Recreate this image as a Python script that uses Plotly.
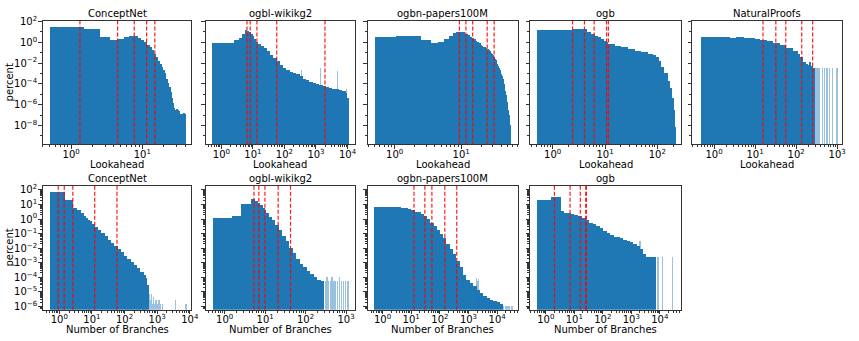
import math
import plotly.graph_objects as go

W, H = 859, 341
BLUE = '#1f77b4'
FONT = 'DejaVu Sans'

# ---------------- data (percent per bin, bin edges) ----------------
# Top row: Lookahead
cn_look_edges = [0.5, 1.5, 2.5, 3.5, 4.5, 5.5, 6.5, 7.5, 8.5, 9.5, 10.5, 11.5, 12.5, 13.5,
                 14.5, 15.5, 16.5, 17.5, 18.5, 19.5, 20.5, 21.5, 22.5, 23.5, 24.5, 25.5, 26.5,
                 27.5, 28.5, 29.5, 30.5, 31.5, 32.5, 33.5, 34.5, 35.5, 36.5, 37.5, 38.5, 39.5, 40.5]
cn_look_pct = [36, 23, 3.3, 1.9, 2.3, 3.6, 4.8, 4.5, 2.9, 1.86,
               1.3, 0.63, 0.38, 0.19, 0.089, 0.044, 0.017, 0.0083, 0.0049, 0.0024,
               0.0011, 3.2e-4, 1.3e-4, 5e-5, 2e-5, 5e-6, 1.6e-6, 5e-7, 3.2e-7, 4e-7,
               3.2e-7, 2.5e-7, 1.3e-7, 5e-8, 1e-7, 1.3e-7, 1.3e-7, 1.6e-7, 1.3e-7, 1.4e-7]
cn_look_lines = [1.33, 4.5, 7.7, 11.5, 15]

wk_look_edges = [0.5, 2.5, 3.5, 4.5, 5.5, 6.5, 7.5, 8.5, 9.5, 10.5,
                 12.5, 14.5, 17.5, 21.5, 26.5, 33.5, 42.5, 54.5, 69.5, 88.5,
                 112.5, 145, 181, 230, 293, 375, 475, 600, 760, 970,
                 1230, 1580, 2000, 2550, 3240, 4150, 5250, 6700, 8500, 9600, 10700]
wk_look_pct = [0.89, 1.86, 2.9, 6.8, 16, 14.5, 9.7, 6.8, 4.7, 2.3,
               1.2, 0.78, 0.45, 0.3, 0.15, 0.07, 0.035, 0.018, 0.007, 0.004,
               0.0025, 0.0016, 0.0012, 9e-4, 6e-4, 3.5e-4, 2.5e-4, 1.6e-4, 1.3e-4, 1e-4,
               8.5e-5, 6.6e-5, 5.5e-5, 4.6e-5, 3.8e-5, 3.2e-5, 2.6e-5, 2.2e-5, 1.5e-5, 5e-6]
wk_look_tail_x = [54, 330, 1320, 4800, 9000]
wk_look_tail_pct = [0.01, 0.0024, 0.0035, 0.0017, 3.2e-5]
wk_look_lines = [6.5, 8.2, 13.4, 57, 1930]

pp_look_edges = [0.5, 1.06, 2.5, 3.5, 4.5, 5.5, 6.5, 7.5, 8.5, 9.5, 10.5, 11.5, 12.5, 13.5,
                 14.5, 15.5, 16.5, 17.5, 18.5, 19.5, 20.5, 21.5, 22.5, 23.5, 24.5, 25.5, 26.5,
                 27.5, 28.5, 29.5, 30.5, 31.5, 32.5, 33.5, 34.5, 35.5, 36.5, 37.5, 38.5, 39.5,
                 40.5, 41.5, 42.5, 43.5, 44.5, 45.5, 46.5, 47.5, 48.5, 49.5, 50.5, 51.5, 52.5,
                 53.5, 54.5, 55.5]
pp_look_pct = [3.3, 4.7, 1.84, 0.89, 1.3, 2.3, 4.7, 8.5, 10.5, 11.2,
               9.7, 7.4, 5.5, 3.9, 2.9, 2.1, 1.6, 1.2, 0.9, 0.65,
               0.5, 0.42, 0.35, 0.3, 0.25, 0.2, 0.15, 0.11, 0.08, 0.06,
               0.042, 0.03, 0.02, 0.013, 0.009, 0.006, 0.004, 0.0025, 0.0016, 0.001,
               6e-4, 3.5e-4, 2e-4, 1e-4, 5e-5, 2.5e-5, 1e-5, 5e-6, 2e-6, 8e-7,
               3e-7, 1.2e-7, 4e-8, 1.2e-8, 4e-9]
pp_look_lines = [9.4, 11.8, 14.9, 24.6, 31.3]

ogb_look_edges = [0.5, 1.5, 2.5, 3.5, 4.5, 5.5, 6.5, 7.5, 8.5, 9.5, 10.5, 11.5,
                  15.5, 20.6, 27.4, 37, 49, 66, 82, 95, 106, 119, 137, 159, 178, 192, 204, 213, 219]
ogb_look_pct = [17.4, 17.4, 20, 20, 9.7, 6.8, 4.8, 3.4, 2.4, 1.6, 1.15,
                0.73, 0.51, 0.36, 0.25, 0.17, 0.12, 0.085, 0.059, 0.044, 0.017,
                0.005, 0.0012, 2.2e-4, 4e-5, 4.5e-6, 3e-7, 8e-9]
ogb_look_lines = [2.4, 4.05, 6.2, 10.7, 11.6]

np_look_edges = [0.5, 1.5, 2.5, 3.5, 4.5, 5.5, 6.5, 7.5,
                 10, 13.4, 19.5, 28, 41, 59, 86, 110, 125, 150, 181, 200, 218, 240, 262, 288]
np_look_pct = [3.3, 3.2, 3.1, 3.2, 3.3, 3.0, 3.0,
               2.7, 2.3, 1.86, 1.39, 0.96, 0.58, 0.30, 0.15, 0.089, 0.044, 0.015,
               0.0083, 0.0072, 0.013, 0.0063, 0.0035]
np_look_tail_x = [300, 320, 345, 380, 440, 500, 575, 660, 770, 1000]
np_look_tail_pct = [0.0035, 0.0035, 0.0035, 0.0035, 0.0035, 0.0035, 0.0035, 0.0035, 0.0035, 0.0035]
np_look_lines = [15.6, 32, 56, 137, 253]

# Bottom row: Number of Branches
cn_br_edges = [0.5, 1.5, 2.5, 3.5, 4.5, 5.5, 6.5, 7.5, 8.5, 9.5,
               12, 15, 19, 24, 30, 38, 48, 60, 76, 95, 120, 150, 190, 240, 300, 380, 430, 480, 540]
cn_br_pct = [70, 23, 5.9, 4.4, 2.7, 1.8, 1.29, 0.97, 0.75,
             0.51, 0.31, 0.19, 0.11, 0.069, 0.041, 0.025, 0.015, 0.0091, 0.0055,
             0.0033, 0.002, 0.0012, 7.2e-4, 4.4e-4, 2.6e-4, 1.6e-4, 1e-4, 3e-5]
cn_br_tail_x = [560, 600, 650, 700, 760, 820, 900, 1000, 1100, 1250, 1400, 3500, 7500]
cn_br_tail_pct = [8e-6, 3e-6, 8e-6, 1.5e-6, 5e-6, 1.5e-6, 3e-6, 1.5e-6, 3e-6, 1.5e-6, 1.5e-6, 3e-6, 1.5e-6]
cn_br_lines = [0.93, 1.42, 2.6, 12.2, 58.6]

wk_br_edges = [0.5, 1.5, 2.5, 3.5, 4.5, 5.5, 6.5, 7.5, 8.5, 9.5, 10.5,
               12.5, 14.5, 17.5, 21.5, 26, 32, 39, 47, 57, 70, 85, 104, 127, 155, 190, 232, 283]
wk_br_pct = [1.15, 1.8, 11, 11, 27, 18, 13, 10, 6.5, 4.5,
             2.8, 1.57, 0.87, 0.42, 0.19, 0.076, 0.031, 0.0117, 0.0046, 0.0019,
             9e-4, 5.1e-4, 3e-4, 1.7e-4, 1.1e-4, 7.4e-5, 5.5e-5]
wk_br_tail_x = [300, 330, 360, 400, 440, 490, 540, 600, 680, 760, 850, 950, 1100]
wk_br_tail_pct = [5.5e-5, 1.1e-4, 5.5e-5, 5.5e-5, 1.1e-4, 5.5e-5, 5.5e-5, 5.5e-5, 1.1e-4,
                  5.5e-5, 5.5e-5, 5.5e-5, 5.5e-5]
wk_br_lines = [5.3, 7.0, 9.9, 21, 42.4]

pp_br_edges = [0.5, 1.5, 2.5, 3.5, 4.5, 5.5,
               7.5, 10, 13, 17, 22, 28, 36, 46, 60, 78, 100, 130, 170, 220, 290,
               380, 500, 650, 850, 1100, 1450, 1900, 2500, 3300, 4300, 5600, 7300, 9500, 12500, 16000]
pp_br_pct = [7.6, 7.0, 6.9, 6.8, 6.5,
             5.8, 5.0, 4.2, 3.4, 3.0, 2.4, 1.8, 1.05, 0.6, 0.36,
             0.2, 0.1, 0.05, 0.021, 0.009, 0.0042, 0.0015, 5e-4, 1.6e-4, 7e-5,
             4.2e-5, 2.5e-5, 1.5e-5, 9e-6, 5.5e-6, 4e-6, 3e-6, 2.5e-6, 2e-6, 1.6e-6]
pp_br_tail_x = [1900, 2100, 2300, 17000, 19000, 21000, 24000, 27000, 33000]
pp_br_tail_pct = [1e-4, 6e-5, 8e-5, 1.2e-6, 1.2e-6, 1.2e-6, 1.2e-6, 1.2e-6, 1.2e-6]
pp_br_lines = [12.5, 30, 52.7, 149, 389]

ogb_br_edges = [0.5, 1.5, 2.5, 3.5, 4.5, 5.5, 6.5, 7.5,
                10, 14, 19, 25, 33, 45, 60, 80, 106, 140, 181, 240, 309, 400, 528,
                700, 900, 1200, 1540, 2000, 2620, 3400, 4500, 6000, 7600]
ogb_br_pct = [21, 32, 32, 3.5, 2.9, 2.7, 2.6,
              2.3, 2.0, 1.7, 1.3, 0.85, 0.6, 0.45, 0.33, 0.25, 0.16,
              0.11, 0.08, 0.065, 0.06, 0.05, 0.038, 0.032, 0.028, 0.022, 0.014,
              0.009, 0.0045, 0.0026, 0.0026, 0.0026]
ogb_br_tail_x = [2050, 8700, 12400, 29000]
ogb_br_tail_pct = [0.035, 0.0026, 0.0026, 0.0026]
ogb_br_lines = [2.0, 7.1, 16.2, 25.2, 26.6]

titles_top = ['ConceptNet', 'ogbl-wikikg2', 'ogbn-papers100M', 'ogb', 'NaturalProofs']
titles_bottom = ['ConceptNet', 'ogbl-wikikg2', 'ogbn-papers100M', 'ogb']

# ---------------- layout geometry (pixels) ----------------
cols_px = [(43, 193), (207.3, 358.3), (371, 522), (534.5, 686.5), (698, 849)]
rows_px = [(15, 141.7), (184, 311)]

panels = [
    dict(e=cn_look_edges, p=cn_look_pct, tx=None, tp=None, lines=cn_look_lines,
         xr=[-0.40, 1.69], dec=[0, 1], row=0, col=0, title=titles_top[0]),
    dict(e=wk_look_edges, p=wk_look_pct, tx=wk_look_tail_x, tp=wk_look_tail_pct, lines=wk_look_lines,
         xr=[-0.50, 4.25], dec=[0, 1, 2, 3, 4], row=0, col=1, title=titles_top[1]),
    dict(e=pp_look_edges, p=pp_look_pct, tx=None, tp=None, lines=pp_look_lines,
         xr=[-0.40, 1.85], dec=[0, 1], row=0, col=2, title=titles_top[2]),
    dict(e=ogb_look_edges, p=ogb_look_pct, tx=None, tp=None, lines=ogb_look_lines,
         xr=[-0.43, 2.45], dec=[0, 1, 2], row=0, col=3, title=titles_top[3]),
    dict(e=np_look_edges, p=np_look_pct, tx=np_look_tail_x, tp=np_look_tail_pct, lines=np_look_lines,
         xr=[-0.53, 3.12], dec=[0, 1, 2, 3], row=0, col=4, title=titles_top[4]),
    dict(e=cn_br_edges, p=cn_br_pct, tx=cn_br_tail_x, tp=cn_br_tail_pct, lines=cn_br_lines,
         xr=[-0.51, 4.05], dec=[0, 1, 2, 3, 4], row=1, col=0, title=titles_bottom[0]),
    dict(e=wk_br_edges, p=wk_br_pct, tx=wk_br_tail_x, tp=wk_br_tail_pct, lines=wk_br_lines,
         xr=[-0.47, 3.23], dec=[0, 1, 2, 3], row=1, col=1, title=titles_bottom[1]),
    dict(e=pp_br_edges, p=pp_br_pct, tx=pp_br_tail_x, tp=pp_br_tail_pct, lines=pp_br_lines,
         xr=[-0.51, 4.72], dec=[0, 1, 2, 3, 4], row=1, col=2, title=titles_bottom[2]),
    dict(e=ogb_br_edges, p=ogb_br_pct, tx=ogb_br_tail_x, tp=ogb_br_tail_pct, lines=ogb_br_lines,
         xr=[-0.55, 4.74], dec=[0, 1, 2, 3, 4], row=1, col=3, title=titles_bottom[3]),
]

yranges = [[-9.82, 2.09], [-6.22, 2.29]]


def sup(k):
    s = str(k).replace('-', '\u2212')
    return '10<sup>%s</sup>' % s


fig = go.Figure()
layout = dict(width=W, height=H, margin=dict(l=0, r=0, t=0, b=0),
              paper_bgcolor='white', plot_bgcolor='white', showlegend=False,
              bargap=0, barmode='overlay', font=dict(family=FONT, size=10, color='black'))
shapes = []
annotations = []

AX_COLOR = '#333333'
tickfont = dict(family=FONT, size=10, color='black')

for i, pn in enumerate(panels):
    n = i + 1
    xa = 'x' if n == 1 else 'x%d' % n
    ya = 'y' if n == 1 else 'y%d' % n
    e, p = pn['e'], pn['p']
    centers = [(e[j] + e[j + 1]) / 2 for j in range(len(p))]
    widths = [e[j + 1] - e[j] for j in range(len(p))]
    fig.add_trace(go.Bar(x=centers, y=p, width=widths, marker=dict(color=BLUE, line=dict(width=0)),
                         xaxis=xa, yaxis=ya, hoverinfo='skip'))
    if pn['tx']:
        fig.add_trace(go.Bar(x=pn['tx'], y=pn['tp'], width=[v * 0.02 for v in pn['tx']],
                             marker=dict(color=BLUE, line=dict(width=0)), opacity=0.45,
                             xaxis=xa, yaxis=ya, hoverinfo='skip'))
    c0, c1 = cols_px[pn['col']]
    r0, r1 = rows_px[pn['row']]
    xdom = [c0 / W, c1 / W]
    ydom = [1 - r1 / H, 1 - r0 / H]
    lo, hi = pn['xr']
    minor_x = [m * 10 ** k for k in range(-2, 6) for m in range(2, 10)
               if lo <= math.log10(m * 10 ** k) <= hi]
    layout['xaxis' if n == 1 else 'xaxis%d' % n] = dict(
        type='log', range=pn['xr'], domain=xdom, anchor=ya,
        showline=True, mirror=True, linecolor=AX_COLOR, linewidth=1,
        showgrid=False, zeroline=False,
        ticks='outside', ticklen=3.5, tickwidth=0.8, tickcolor=AX_COLOR,
        tickmode='array', tickvals=[10 ** d for d in pn['dec']], ticktext=[sup(d) for d in pn['dec']],
        tickfont=tickfont, ticklabelstandoff=-3,
        minor=dict(tickmode='array', tickvals=minor_x, ticks='outside', ticklen=2,
                   tickwidth=0.6, tickcolor=AX_COLOR, showgrid=False))
    if pn['row'] == 0:
        ymaj = [-8, -6, -4, -2, 0, 2]
        yminor = [10.0 ** k for k in [-9, -7, -5, -3, -1, 1]]
    else:
        ymaj = [-6, -5, -4, -3, -2, -1, 0, 1, 2]
        yminor = [m * 10.0 ** k for k in range(-7, 3) for m in range(2, 10)
                  if -6.22 <= math.log10(m * 10.0 ** k) <= 2.29]
    layout['yaxis' if n == 1 else 'yaxis%d' % n] = dict(
        type='log', range=yranges[pn['row']], domain=ydom, anchor=xa,
        showline=True, mirror=True, linecolor=AX_COLOR, linewidth=1,
        showgrid=False, zeroline=False,
        ticks='outside', ticklen=3.5, tickwidth=0.8, tickcolor=AX_COLOR,
        tickmode='array', tickvals=[10.0 ** d for d in ymaj], ticktext=[sup(d) for d in ymaj],
        showticklabels=(pn['col'] == 0), tickfont=tickfont, ticklabelstandoff=-1,
        minor=dict(tickmode='array', tickvals=yminor, ticks='outside', ticklen=2,
                   tickwidth=0.6, tickcolor=AX_COLOR, showgrid=False))
    for v in pn['lines']:
        shapes.append(dict(type='line', xref=xa, yref=ya + ' domain', x0=v, x1=v, y0=0, y1=1,
                           line=dict(color='rgba(255,0,0,0.9)', width=1.2, dash='4px,2px'), layer='above'))
    annotations.append(dict(text=pn['title'], x=(c0 + c1) / 2 / W, y=1 - r0 / H, xref='paper', yref='paper',
                            xanchor='center', yanchor='bottom', showarrow=False,
                            font=dict(family=FONT, size=10, color='black')))
    xlabel = 'Lookahead' if pn['row'] == 0 else 'Number of Branches'
    ylab_px = 162.5 if pn['row'] == 0 else 331
    annotations.append(dict(text=xlabel, x=(c0 + c1) / 2 / W, y=1 - ylab_px / H, xref='paper', yref='paper',
                            xanchor='center', yanchor='middle', showarrow=False,
                            font=dict(family=FONT, size=10, color='black')))
    if pn['col'] == 0:
        annotations.append(dict(text='percent', x=10 / W, y=1 - (r0 + r1) / 2 / H, xref='paper', yref='paper',
                                xanchor='center', yanchor='middle', textangle=-90, showarrow=False,
                                font=dict(family=FONT, size=10, color='black')))

layout['shapes'] = shapes
layout['annotations'] = annotations
fig.update_layout(**layout)
fig.write_html('out.html', config={'displayModeBar': False},
               post_script="document.body.style.margin='0';")
